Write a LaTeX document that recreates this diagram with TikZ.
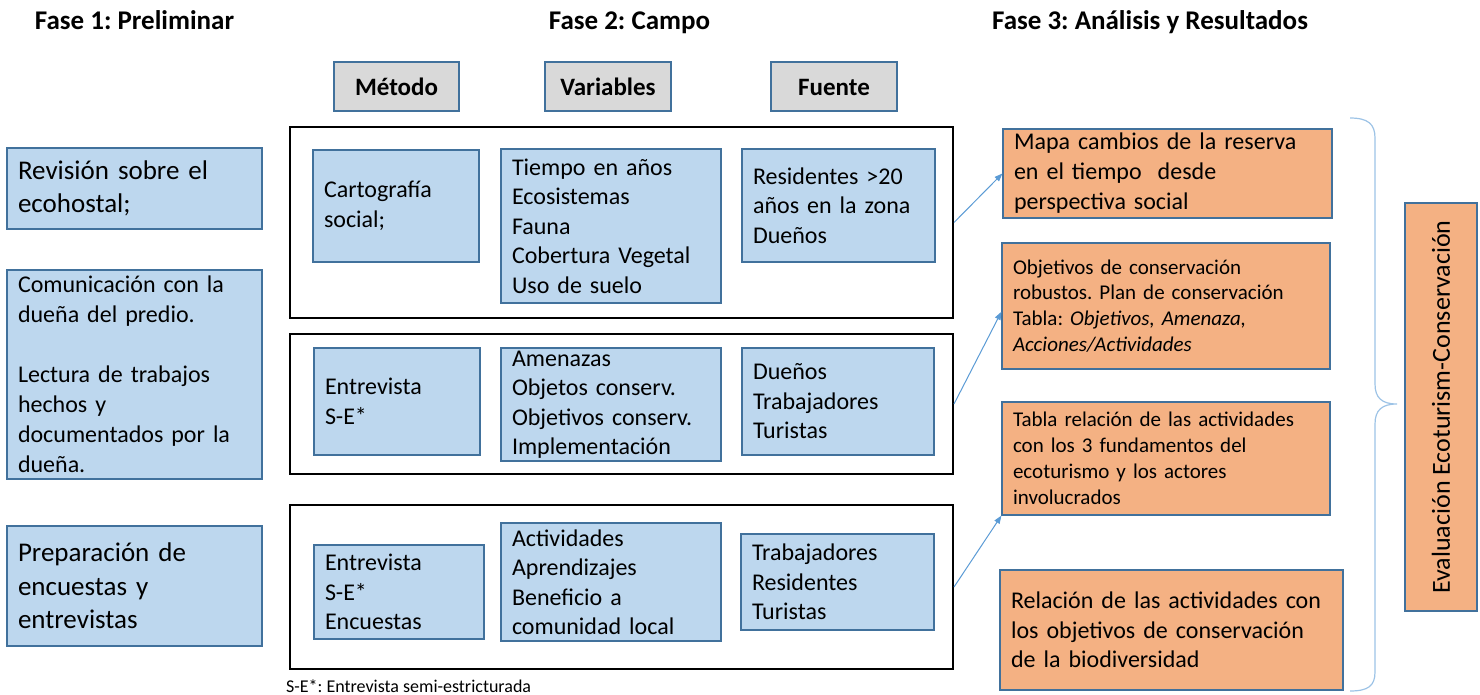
\documentclass[tikz,border=0pt]{standalone}
\usepackage{fontspec}
\setmainfont{Carlito}
\usetikzlibrary{arrows.meta}
\frenchspacing

\definecolor{azulcaja}{HTML}{BDD7EE}
\definecolor{bordecaja}{HTML}{41719C}
\definecolor{naranjacaja}{HTML}{F4B183}
\definecolor{griscaja}{HTML}{D9D9D9}
\definecolor{azulflecha}{HTML}{5B9BD5}
\definecolor{azulllave}{HTML}{9DC3E6}

\tikzset{
  caja/.style={draw=bordecaja, line width=1.2pt, rectangle, inner xsep=11pt, inner ysep=0pt, align=left},
  azul/.style={caja, fill=azulcaja, font=\fontsize{24}{29.5}\selectfont},
  naranja/.style={caja, fill=naranjacaja},
  encabezado/.style={caja, fill=griscaja, align=center, text height=20pt, text depth=2pt, font=\bfseries\fontsize{25}{30}\selectfont},
  marco/.style={draw=black, line width=2pt, rectangle, inner sep=0pt},
  fase/.style={anchor=base, inner sep=0pt, font=\bfseries\fontsize{27}{32}\selectfont},
  flecha/.style={draw=azulflecha, line width=1pt, -{Triangle[length=8pt,width=6pt]}},
}

\begin{document}
\begin{tikzpicture}[x=1pt,y=-1pt]
\useasboundingbox (0,0) rectangle (1480,694);

% titulos de fase
\node[fase] (fase1) at (134.5,29) {Fase 1: Preliminar};
\node[fase] (fase2) at (629.5,29) {Fase 2: Campo};
\node[fase] (fase3) at (1150,29) {Fase 3: Análisis y Resultados};

% fase 1
\node[azul, text width=233pt, minimum height=81pt, font=\fontsize{27}{33}\selectfont] (revision) at (134.5,188.5) {Revisión sobre el\\ecohostal;};
\node[azul, text width=233pt, minimum height=209pt, font=\fontsize{24}{30}\selectfont] (comunicacion) at (134.5,374.5) {Comunicación con la\\dueña del predio.\\[30pt]Lectura de trabajos\\hechos y\\documentados por la\\dueña.};
\node[azul, text width=233pt, minimum height=120pt, font=\fontsize{27}{33.5}\selectfont] (preparacion) at (134.5,586) {Preparación de\\encuestas y\\entrevistas};

% fase 2: encabezados
\node[encabezado, minimum width=125pt, minimum height=49pt] (metodo) at (396.5,86.5) {Método};
\node[encabezado, minimum width=126pt, minimum height=49pt] (variables) at (608,86.5) {Variables};
\node[encabezado, minimum width=126pt, minimum height=49pt] (fuente) at (834,86.5) {Fuente};

% fase 2: marcos
\node[marco, minimum width=663pt, minimum height=191pt] (marco1) at (621.5,222.5) {};
\node[marco, minimum width=663pt, minimum height=140pt] (marco2) at (621.5,404) {};
\node[marco, minimum width=663pt, minimum height=164pt] (marco3) at (621.5,587) {};

% fila 1
\node[azul, text width=144pt, minimum height=112pt] (carto) at (396,206) {Cartografía\\social;};
\node[azul, text width=198pt, minimum height=154pt] (var1) at (611,226) {Tiempo en años\\Ecosistemas\\Fauna\\Cobertura Vegetal\\Uso de suelo};
\node[azul, text width=171pt, minimum height=113pt] (fuente1) at (838.5,205.5) {Residentes >20\\años en la zona\\Dueños};

% fila 2
\node[azul, text width=144pt, minimum height=107pt] (entrev2) at (397,401.5) {Entrevista\\S-E*};
\node[azul, text width=198pt, minimum height=113pt] (var2) at (611,404.5) {Amenazas\\Objetos conserv.\\Objetivos conserv.\\Implementación};
\node[azul, text width=170pt, minimum height=107pt] (fuente2) at (838,401.5) {Dueños\\Trabajadores\\Turistas};

% fila 3
\node[azul, text width=148pt, minimum height=94pt] (entrev3) at (399,592) {Entrevista\\S-E*\\Encuestas};
\node[azul, text width=198pt, minimum height=118pt] (var3) at (611,582) {Actividades\\Aprendizajes\\Beneficio a\\comunidad local};
\node[azul, text width=171pt, minimum height=96pt] (fuente3) at (837.5,582) {Trabajadores\\Residentes\\Turistas};

\node[anchor=west, inner sep=0pt, font=\fontsize{18}{21}\selectfont] (nota) at (286,686) {S-E*: Entrevista semi-estricturada};

% fase 3
\node[naranja, text width=307pt, minimum height=89pt, font=\fontsize{24}{30}\selectfont] (mapa) at (1167.5,173.5) {Mapa cambios de la reserva\\en el tiempo~~desde\\perspectiva social};
\node[naranja, text width=306pt, minimum height=126pt, font=\fontsize{21}{25.7}\selectfont] (objetivos) at (1166,306) {Objetivos de conservación\\robustos. Plan de conservación\\Tabla: \textit{Objetivos, Amenaza,}\\\textit{Acciones/Actividades}};
\node[naranja, text width=306pt, minimum height=113pt, font=\fontsize{21}{26}\selectfont] (tabla) at (1166,458.5) {Tabla relación de las actividades\\con los 3 fundamentos del\\ecoturismo y los actores\\involucrados};
\node[naranja, text width=321pt, minimum height=120pt, font=\fontsize{24}{29.5}\selectfont] (relacion) at (1171.5,630) {Relación de las actividades con\\los objetivos de conservación\\de la biodiversidad};
\node[naranja, rotate=90, minimum width=408pt, minimum height=72pt, align=center, font=\fontsize{26}{31}\selectfont] (evaluacion) at (1441,407) {Evaluación Ecoturism-Conservación};

% flechas
\draw[flecha] (marco1.east) -- (mapa.west);
\draw[flecha] (marco2.east) -- (objetivos.182);
\draw[flecha] (marco3.east) -- (tabla.south west);

% llave
\draw[azulllave, line width=1.2pt] (1350,118) .. controls (1368,118) and (1375,124) .. (1375,138) -- (1375,384)
  .. controls (1375,398) and (1382,404) .. (1397,404) .. controls (1382,404) and (1375,410) .. (1375,424)
  -- (1375,672) .. controls (1375,686) and (1368,691) .. (1350,691);
\end{tikzpicture}
\end{document}
